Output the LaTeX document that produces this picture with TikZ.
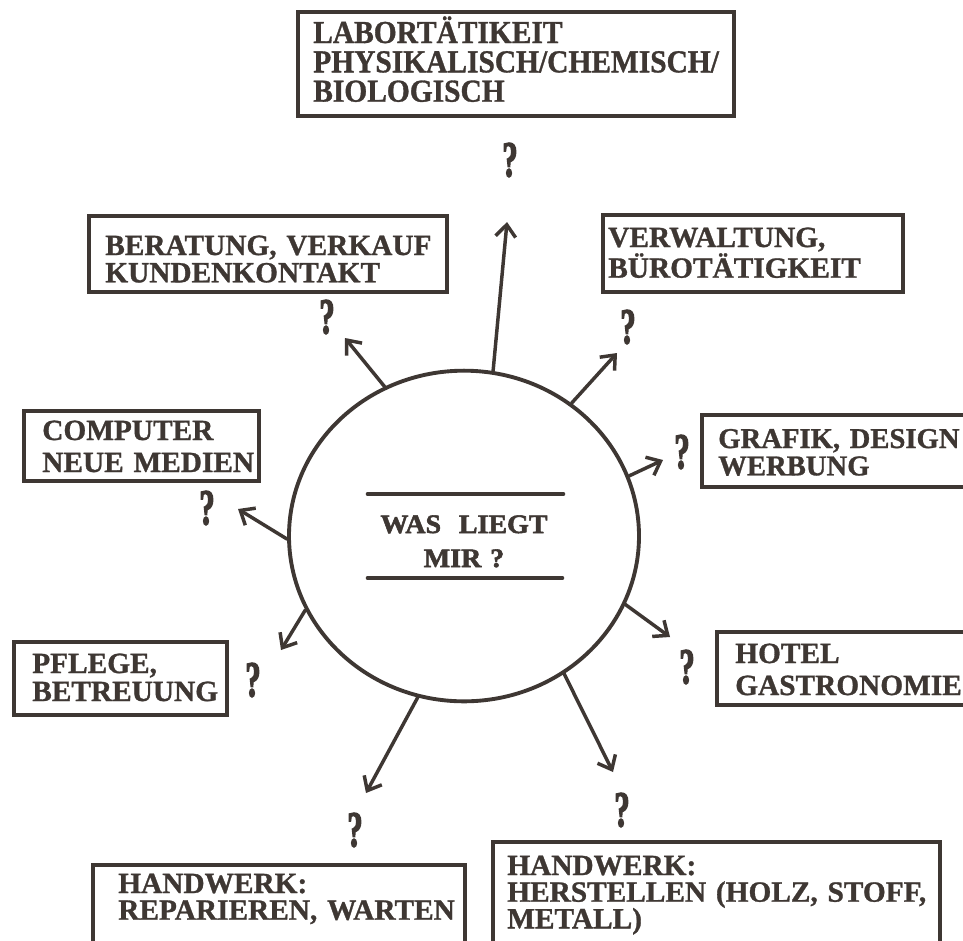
\documentclass[tikz,border=0pt]{standalone}
\usepackage{fontspec}
\setmainfont[FakeBold=1]{Liberation Serif}
\newfontfamily\tallfont[FakeStretch=0.92,FakeBold=1]{Liberation Serif}
\newfontfamily\widefont[FakeStretch=1.05,FakeBold=2]{Liberation Serif}
\newfontfamily\qfont[FakeStretch=0.6,FakeBold=2.5]{Liberation Serif}
\usetikzlibrary{arrows.meta,shapes.geometric,fit}
\definecolor{ink}{RGB}{62,55,51}
\begin{document}
\begin{tikzpicture}[x=0.75pt,y=-0.75pt,
  box/.style={draw=ink, line width=3.2pt, inner sep=0pt},
  lbl/.style={text=ink, font=\bfseries\fontsize{22}{#1}\selectfont, anchor=base west, inner sep=0pt, text width=420pt, align=left},
  lbl/.default=22,
  qm/.style={text=ink, font=\qfont\bfseries\fontsize{38}{38}\selectfont, inner sep=0pt},
  arr/.style={draw=ink, line width=2.6pt, line cap=round, -{Straight Barb[length=9pt,width=15pt]}},
  bar/.style={draw=ink, line width=3.5pt, line cap=round}
]
\useasboundingbox (0,0) rectangle (963,940);
\clip (0,0) rectangle (963,940);
\fill[white] (0,0) rectangle (963,940);

% central circle
\node[ellipse, draw=ink, line width=2.9pt, minimum width=262.5pt, minimum height=248pt, inner sep=0pt] (c) at (464,536) {};
\coordinate (b1a) at (368,494); \coordinate (b1b) at (563,494);
\coordinate (b2a) at (368,578); \coordinate (b2b) at (562,578);
\draw[bar] (b1a) -- (b1b);
\draw[bar] (b2a) -- (b2b);
\node[text=ink, font=\widefont\bfseries\fontsize{20}{25.5}\selectfont, anchor=base, inner sep=0pt, text width=200pt, align=center] (ctext) at (464,533) {WAS\ \ LIEGT\\MIR ?};

% boxes
\coordinate (lab1) at (298,12); \coordinate (lab2) at (734,116);
\node[box, fit=(lab1)(lab2)] (lab) {};
\node[lbl=22, font=\tallfont\bfseries\fontsize{24}{22}\selectfont] (labt) at (313,43) {LABORTÄTIKEIT\\PHYSIKALISCH/CHEMISCH/\\BIOLOGISCH};

\coordinate (ber1) at (89,216); \coordinate (ber2) at (447,292);
\node[box, fit=(ber1)(ber2)] (ber) {};
\node[lbl=20.5] (bert) at (105,255) {BERATUNG, VERKAUF\\KUNDENKONTAKT};

\coordinate (ver1) at (603,215); \coordinate (ver2) at (903,292);
\node[box, fit=(ver1)(ver2)] (ver) {};
\node[lbl=23] (vert) at (608,247) {VERWALTUNG,\\BÜROTÄTIGKEIT};

\coordinate (com1) at (24,411); \coordinate (com2) at (259,481);
\node[box, fit=(com1)(com2)] (com) {};
\node[lbl=24] (comt) at (42,440) {COMPUTER\\NEUE MEDIEN};

\coordinate (gra1) at (702,415); \coordinate (gra2) at (975,487);
\node[box, fit=(gra1)(gra2)] (gra) {};
\node[lbl=20.5, font=\bfseries\fontsize{21.5}{20.5}\selectfont] (grat) at (718,448) {GRAFIK, DESIGN\\WERBUNG};

\coordinate (pfl1) at (14,642); \coordinate (pfl2) at (227,715);
\node[box, fit=(pfl1)(pfl2)] (pfl) {};
\node[lbl=21] (pflt) at (32,673) {PFLEGE,\\BETREUUNG};

\coordinate (hot1) at (717,632); \coordinate (hot2) at (975,705);
\node[box, fit=(hot1)(hot2)] (hot) {};
\node[lbl=24] (hott) at (735,663) {HOTEL\\GASTRONOMIE};

\coordinate (rep1) at (93,865); \coordinate (rep2) at (465,960);
\node[box, fit=(rep1)(rep2)] (rep) {};
\node[lbl=20] (rept) at (118,893) {HANDWERK:\\REPARIEREN, WARTEN};

\coordinate (her1) at (493,842); \coordinate (her2) at (940,960);
\node[box, fit=(her1)(her2)] (her) {};
\node[lbl=20] (hert) at (507,875) {HANDWERK:\\HERSTELLEN (HOLZ, STOFF,\\METALL)};

% question marks
\node[qm] (q1) at (510,160) {?};
\node[qm] (q2) at (327,317) {?};
\node[qm] (q3) at (628,327) {?};
\node[qm] (q4) at (207,508) {?};
\node[qm] (q5) at (682,452) {?};
\node[qm] (q6) at (253,680) {?};
\node[qm] (q7) at (687,667) {?};
\node[qm] (q8) at (355,830) {?};
\node[qm] (q9) at (622,810) {?};

% arrows
\coordinate (t1) at (507,222);
\coordinate (t2) at (345,338);
\coordinate (t3) at (617,353);
\coordinate (t4) at (663,460);
\coordinate (t5) at (238,509);
\coordinate (t6) at (670,637);
\coordinate (t7) at (281,650);
\coordinate (t8) at (366,793);
\coordinate (t9) at (613,772);
\draw[arr] (c.80) -- (t1);
\draw[arr] (c.118.5) -- (t2);
\draw[arr] (c.51.4) -- (t3);
\draw[arr] (c.20.6) -- (t4);
\draw[arr] (c.181) -- (t5);
\draw[arr] (c.-23.2) -- (t6);
\draw[arr] (c.205) -- (t7);
\draw[arr] (c.-106.3) -- (t8);
\draw[arr] (c.-54.8) -- (t9);
\end{tikzpicture}
\end{document}
